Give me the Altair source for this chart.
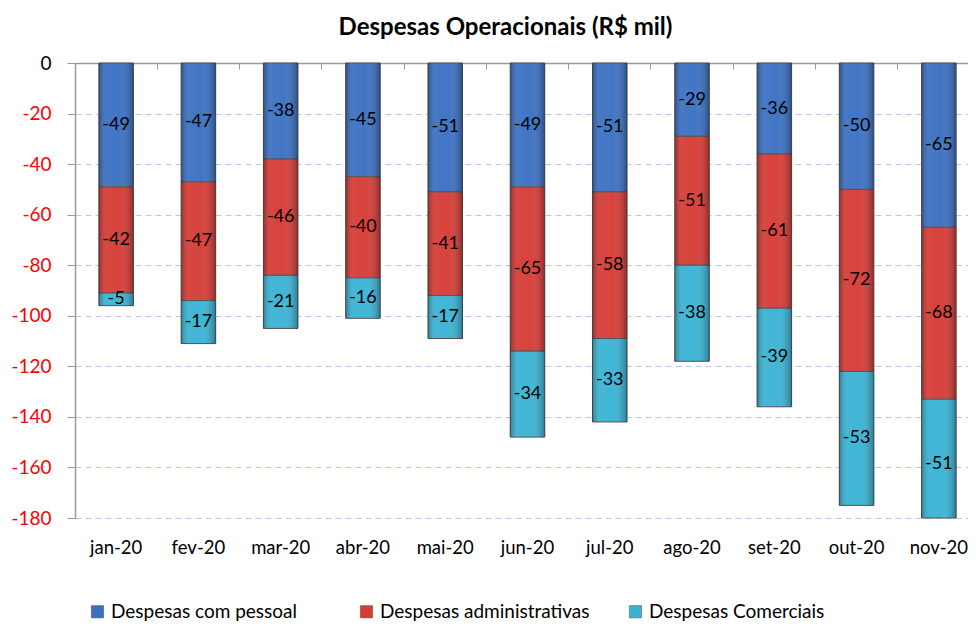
import altair as alt
import pandas as pd

months = ["jan-20", "fev-20", "mar-20", "abr-20", "mai-20", "jun-20",
          "jul-20", "ago-20", "set-20", "out-20", "nov-20"]
pessoal = [-49, -47, -38, -45, -51, -49, -51, -29, -36, -50, -65]
administrativas = [-42, -47, -46, -40, -41, -65, -58, -51, -61, -72, -68]
comerciais = [-5, -17, -21, -16, -17, -34, -33, -38, -39, -53, -51]
series = ["Despesas com pessoal", "Despesas administrativas", "Despesas Comerciais"]
colors = ["#3a70c2", "#d63b35", "#39b3d4"]
y_ticks = [0, -20, -40, -60, -80, -100, -120, -140, -160, -180]

rows = []
for i, m in enumerate(months):
    for k, (s, vals) in enumerate(zip(series, [pessoal, administrativas, comerciais])):
        rows.append({"month": m, "serie": s, "ord": k, "val": vals[i]})
df = pd.DataFrame(rows)

FONT = "Lato"
xscale = alt.Scale(domain=months, range=[0, 905], paddingInner=0, paddingOuter=0)
yscale = alt.Scale(domain=[-180, 0], nice=False, clamp=True)
BW = alt.RelativeBandSize(0.42)

bars = alt.Chart(df).mark_bar(
    width=BW, stroke="#4d4d4d", strokeWidth=1
).encode(
    x=alt.X("month:N", scale=xscale, sort=months, title=None,
            axis=alt.Axis(orient="bottom", domain=False, ticks=False, labelAngle=0,
                          labelFont=FONT, labelFontSize=18.5, labelColor="black",
                          labelPadding=20, grid=False, labelOverlap=False)),
    y=alt.Y("val:Q", scale=yscale, stack="zero", title=None,
            axis=alt.Axis(values=y_ticks, labelFont=FONT, labelFontSize=19,
                          labelExpr="'' + datum.value",
                          labelColor=alt.expr("datum.value == 0 ? 'black' : '#ff0000'"),
                          labelPadding=16, tickSize=8, tickColor="#9a9a9a",
                          domainColor="#9a9a9a", domainWidth=1.5,
                          gridColor="#b8c8ea", gridDash=[6, 4], gridWidth=1)),
    color=alt.Color("serie:N", scale=alt.Scale(domain=series, range=colors),
                    sort=series,
                    legend=alt.Legend(orient="none", legendX=13, legendY=539,
                                      direction="horizontal", columns=3,
                                      gridAlign="all", title=None, symbolType="square",
                                      symbolSize=150, symbolStrokeColor="#4d4d4d",
                                      symbolStrokeWidth=0.5, labelLimit=400,
                                      labelFont=FONT, labelFontSize=19, labelColor="black",
                                      columnPadding=36)),
    order=alt.Order("ord:Q"),
)

shade = {
    "gradient": "linear", "x1": 0, "y1": 0, "x2": 1, "y2": 0,
    "stops": [
        {"offset": 0, "color": "rgba(0,0,0,0.28)"},
        {"offset": 0.25, "color": "rgba(255,255,255,0.06)"},
        {"offset": 0.6, "color": "rgba(255,255,255,0.04)"},
        {"offset": 1, "color": "rgba(0,0,0,0.30)"},
    ],
}

gloss = alt.Chart(df).mark_bar(width=BW, strokeWidth=0).encode(
    x=alt.X("month:N", scale=xscale, sort=months, axis=None),
    y=alt.Y("val:Q", scale=yscale, stack="zero", axis=None),
    order=alt.Order("ord:Q"),
    fill=alt.value(shade),
)

labels = alt.Chart(df).transform_stack(
    stack="val", groupby=["month"], as_=["y0", "y1"],
    sort=[alt.SortField("ord", order="ascending")]
).transform_calculate(
    mid="(datum.y0 + datum.y1) / 2",
    lbl="'' + datum.val",
).mark_text(font=FONT, fontSize=18, color="black").encode(
    x=alt.X("month:N", scale=xscale, sort=months, title=None,
            axis=alt.Axis(orient="bottom", offset=-455, labels=False, domain=True,
                          ticks=True, tickSize=6, bandPosition=0,
                          domainColor="#9a9a9a", domainWidth=1.5, tickColor="#9a9a9a",
                          grid=False)),
    y=alt.Y("mid:Q", scale=yscale, axis=None),
    text=alt.Text("lbl:N"),
)

chart = alt.layer(bars, gloss, labels).resolve_axis(
    x="independent", y="independent"
).properties(
    width=885, height=455,
    autosize=alt.AutoSizeParams(type="none"),
    padding={"left": 67, "top": 55, "right": 8, "bottom": 107},
    title=alt.TitleParams("Despesas Operacionais  (R$ mil)", font=FONT, fontSize=24,
                          fontWeight="bold", anchor="middle", offset=14, dx=-12,
                          color="black"),
).configure_view(stroke=None)

chart.save("out.html", embed_options={"renderer": "svg", "actions": False})
